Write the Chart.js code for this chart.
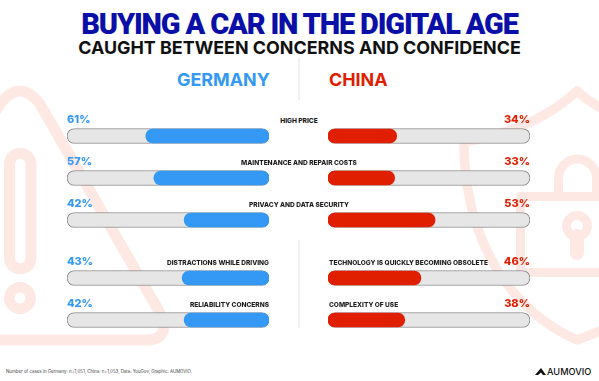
<!DOCTYPE html>
<html>
<head>
<meta charset="utf-8">
<script src="https://cdn.jsdelivr.net/npm/chart.js@4"></script>
<style>
  html, body { margin: 0; padding: 0; background: #fff; }
  #page { position: relative; width: 599px; height: 381px; overflow: hidden; font-family: Inter, sans-serif; }
  #page > * { position: absolute; }
  .txt { white-space: nowrap; line-height: 1; }
  .cat { font-size: 6.55px; font-weight: 800; color: #1c1c1c; }
  .pct { font-size: 11px; font-weight: 800; }
</style>
</head>
<body>
<div id="page">
  <svg width="599" height="381" style="left:0;top:0" fill="none" stroke="#fde8e4" stroke-linejoin="round" stroke-linecap="round">
    <path stroke-width="11" d="M-20 340 H145 Q172 340 160 313 L40 104 Q20 78 0 104 L-40 170"/>
    <path stroke-width="11" d="M9.5 164 A10.5 10.5 0 0 1 31 164 V258 A10.5 10.5 0 0 1 9.5 258 Z"/>
    <circle cx="20" cy="298" r="10.7" stroke-width="10.5"/>
    <path stroke-width="9.5" d="M464 142 Q535 130 577 91 Q600 112 640 125"/>
    <path stroke-width="9.5" d="M464 142 C464 240 510 310 577 340 L640 315"/>
    <path stroke-width="9" d="M640 196.5 H520.5 V272.5 H640"/>
    <path stroke-width="9" d="M558.5 196 V178 A19 19 0 0 1 596.5 178 V196"/>
    <circle cx="577" cy="226" r="10.5" stroke-width="9"/>
    <path stroke-width="14" d="M577 236 V253"/>
  </svg>
  <div class="txt" style="left:0;width:599px;top:10px;text-align:center;font-family:Roboto,sans-serif;font-size:29px;font-weight:900;letter-spacing:-1.15px;color:#0a0fa8">BUYING A CAR IN THE DIGITAL AGE</div>
  <div class="txt" style="left:0;width:599px;top:39px;text-align:center;font-size:17.9px;font-weight:700;color:#111">CAUGHT BETWEEN CONCERNS AND CONFIDENCE</div>
  <div class="txt" style="left:177px;top:71px;font-size:17.9px;font-weight:700;color:#3399f5">GERMANY</div>
  <div class="txt" style="left:329px;top:71px;font-size:17.9px;font-weight:700;color:#e01e00">CHINA</div>
  <div style="left:298px;top:58px;width:2px;height:42px;background:#f0f0f0"></div>
  <div style="left:298px;top:240px;width:2px;height:88px;background:#f0f0f0"></div>
  <canvas id="topLeft" width="206" height="126" style="left:65px;top:115px"></canvas>
  <canvas id="topRight" width="206" height="126" style="left:326px;top:115px"></canvas>
  <canvas id="bottomLeft" width="206" height="84" style="left:65px;top:257px"></canvas>
  <canvas id="bottomRight" width="206" height="84" style="left:326px;top:257px"></canvas>
  <div class="txt" style="left:6px;top:370px;font-size:4.4px;color:#444">Number of cases in Germany: n=1,051, China: n=1,053, Data: YouGov, Graphic: AUMOVIO.</div>
  <svg width="12" height="7" style="left:535px;top:368px"><path d="M0 7 L6 0 L11 7 L8 7 L6 4.5 L3 7 Z" fill="#111"/></svg>
  <div class="txt" style="left:547px;top:367px;font-size:9.2px;font-weight:500;color:#111">AUMOVIO</div>
</div>
<script>
const topCategories = ['HIGH PRICE', 'MAINTENANCE AND REPAIR COSTS', 'PRIVACY AND DATA SECURITY'];
const germanyTop = [61, 57, 42];
const chinaTop = [34, 33, 53];

const germanyBottomCategories = ['DISTRACTIONS WHILE DRIVING', 'RELIABILITY CONCERNS'];
const germanyBottom = [43, 42];
const chinaBottomCategories = ['TECHNOLOGY IS QUICKLY BECOMING OBSOLETE', 'COMPLEXITY OF USE'];
const chinaBottom = [46, 38];

const blue = '#3399f5';
const red = '#e01e00';

function barChart(id, labels, values, color, reverse) {
    return new Chart(document.getElementById(id).getContext('2d'), {
        type: 'bar',
        data: {
            labels: labels,
            datasets: [{
                data: values,
                backgroundColor: color,
                borderRadius: 7,
                borderSkipped: false,
                barThickness: 14,
                order: 1
            }, {
                data: labels.map(() => 100),
                backgroundColor: '#e6e6e6',
                borderColor: '#8a8a8a',
                borderWidth: 1,
                borderRadius: 7.5,
                borderSkipped: false,
                barThickness: 15,
                order: 2
            }]
        },
        options: {
            indexAxis: 'y',
            responsive: false,
            animation: false,
            layout: { padding: { left: 2, right: 2 } },
            datasets: { bar: { grouped: false } },
            plugins: { legend: { display: false }, tooltip: { enabled: false } },
            scales: {
                x: { display: false, min: 0, max: 100, reverse: reverse },
                y: { display: false }
            }
        }
    });
}

barChart('topLeft', topCategories, germanyTop, blue, true);
barChart('topRight', topCategories, chinaTop, red, false);
barChart('bottomLeft', germanyBottomCategories, germanyBottom, blue, true);
barChart('bottomRight', chinaBottomCategories, chinaBottom, red, false);

// value and category labels sit just above each bar
const page = document.getElementById('page');
function addText(cls, text, y, x, align, color) {
    const el = document.createElement('div');
    el.className = 'txt ' + cls;
    el.textContent = text;
    el.style.top = y + 'px';
    if (align === 'right') el.style.right = (599 - x) + 'px';
    else if (align === 'center') { el.style.left = x + 'px'; el.style.transform = 'translateX(-50%)'; }
    else el.style.left = x + 'px';
    if (color) el.style.color = color;
    page.appendChild(el);
}
const topRows = [114, 156, 198];
const bottomRows = [256, 298];
topCategories.forEach((c, i) => {
    addText('cat', c, topRows[i] + 3.5, 299, 'center');
    addText('pct', germanyTop[i] + '%', topRows[i], 67, 'left', blue);
    addText('pct', chinaTop[i] + '%', topRows[i], 530, 'right', red);
});
germanyBottomCategories.forEach((c, i) => {
    addText('cat', c, bottomRows[i] + 4, 269, 'right');
    addText('pct', germanyBottom[i] + '%', bottomRows[i], 67, 'left', blue);
});
chinaBottomCategories.forEach((c, i) => {
    addText('cat', c, bottomRows[i] + 4, 329, 'left');
    addText('pct', chinaBottom[i] + '%', bottomRows[i], 530, 'right', red);
});
</script>
</body>
</html>
